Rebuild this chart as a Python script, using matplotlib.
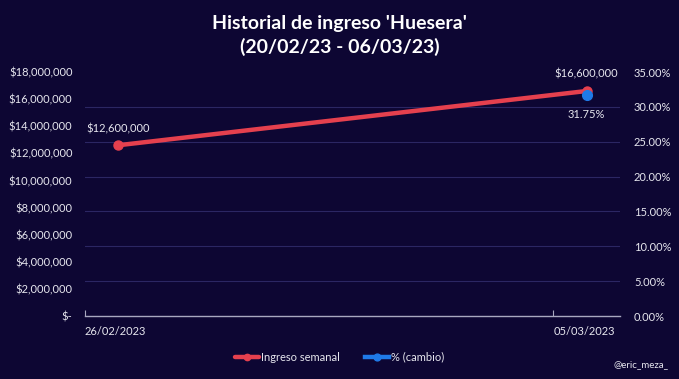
import matplotlib
matplotlib.use("Agg")
import matplotlib.pyplot as plt
import numpy as np
from matplotlib.ticker import FuncFormatter, MultipleLocator

# Data
fechas = ["26/02/2023", "05/03/2023"]
dias = [0, 7]  # days since 26/02/2023
ingreso = [12600000, 16600000]
cambio = [np.nan, 0.3175]

BG = "#0d0633"
RED = "#e5404e"
BLUE = "#1f7ae8"
GRID = "#2b2663"
TXT = "#e6e6ee"

plt.rcParams["font.family"] = ["Lato", "DejaVu Sans"]

fig = plt.figure(figsize=(6.79, 3.79), dpi=100, facecolor=BG)
ax = fig.add_axes([0.1252, 0.166, 0.788, 0.644])
ax.set_facecolor(BG)
ax2 = ax.twinx()

# points sit in the middle of each date slot (Excel date axis)
x_pts = [d + 0.5 for d in dias]

ax.plot(x_pts, ingreso, color=RED, lw=3.2, marker="o", ms=6.5, zorder=3,
        label="Ingreso semanal", solid_capstyle="round")
ax2.plot(x_pts, cambio, color=BLUE, lw=3.2, marker="o", ms=7, zorder=3,
         label="% (cambio)")

ax.set_xlim(0, 8)
ax.set_ylim(0, 18000000)
ax2.set_ylim(0, 0.35)

ax.set_xticks(dias)
ax.set_xticklabels(fechas, ha="left")
ax.yaxis.set_major_locator(MultipleLocator(2000000))
ax.yaxis.set_major_formatter(FuncFormatter(
    lambda v, p: "$-" if v == 0 else "${:,.0f}".format(v)))
ax2.yaxis.set_major_locator(MultipleLocator(0.05))
ax2.yaxis.set_major_formatter(FuncFormatter(lambda v, p: "{:.2f}%".format(v * 100)))

# gridlines follow the secondary axis, drawn behind the series
ax.set_yticks(np.linspace(0, 18000000, 8), minor=True)
ax.grid(which="minor", axis="y", color=GRID, lw=0.8, zorder=0)
ax.tick_params(axis="y", which="both", length=0, colors=TXT, labelsize=8, pad=9)
ax2.tick_params(axis="y", length=0, colors=TXT, labelsize=8, pad=10)
ax.tick_params(axis="x", colors=TXT, labelsize=8, direction="in", length=4,
               color="#a8a8c0", pad=7)

for a in (ax, ax2):
    for s in a.spines.values():
        s.set_visible(False)
ax.spines["bottom"].set_visible(True)
ax.spines["bottom"].set_color("#a8a8c0")
ax.spines["bottom"].set_linewidth(1)

# data labels
for x, v in zip(x_pts, ingreso):
    ax.annotate("${:,.0f}".format(v), (x, v), xytext=(0, 8),
                textcoords="offset points", ha="center", va="bottom",
                color=TXT, fontsize=8)
for x, v in zip(x_pts, cambio):
    if not np.isnan(v):
        ax2.annotate("{:.2f}%".format(v * 100), (x, v), xytext=(0, -10),
                     textcoords="offset points", ha="center", va="top",
                     color=TXT, fontsize=8)

fig.suptitle("Historial de ingreso 'Huesera'\n(20/02/23 - 06/03/23)",
             color="white", fontsize=14, fontweight="bold", y=0.96,
             linespacing=1.35)

h1, l1 = ax.get_legend_handles_labels()
h2, l2 = ax2.get_legend_handles_labels()
leg = fig.legend(h1 + h2, l1 + l2, loc="center", bbox_to_anchor=(0.5, 0.058),
                 ncol=2, frameon=False, fontsize=8, labelcolor=TXT,
                 handlelength=2.2, handletextpad=0.2, columnspacing=2.2,
                 markerscale=0.7)

fig.text(0.985, 0.025, "@eric_meza_", color=TXT, fontsize=7, ha="right",
         va="bottom")

fig.savefig("out.png", dpi=100, facecolor=BG)
